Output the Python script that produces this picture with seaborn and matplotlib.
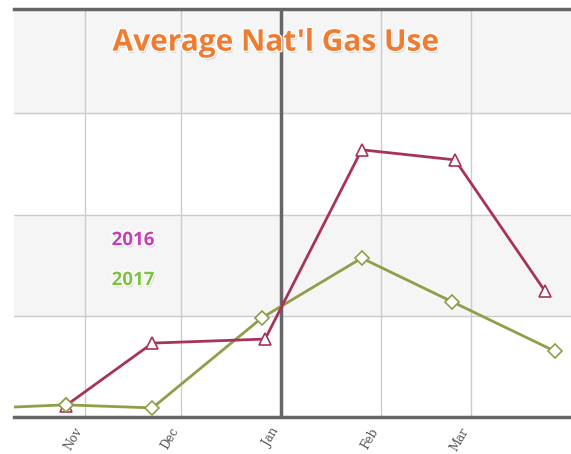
import matplotlib
matplotlib.use("Agg")
import matplotlib.pyplot as plt
import matplotlib.patheffects as pe
import pandas as pd
import seaborn as sns

# readings, plotted on a shared Oct-Mar season axis
dates_2016 = ["2016-10-26", "2016-11-22", "2016-12-27", "2017-01-26", "2017-02-24", "2017-03-24"]
use_2016 = [11, 73, 77, 264, 254, 124]
dates_2017 = ["2016-09-26", "2016-10-26", "2016-11-22", "2016-12-26", "2017-01-26", "2017-02-23", "2017-03-27"]
use_2017 = [8, 12, 9, 98, 157, 114, 65]
month_labels = ["Nov", "Dec", "Jan", "Feb", "Mar"]

df16 = pd.DataFrame({"date": pd.to_datetime(dates_2016), "use": use_2016})
df17 = pd.DataFrame({"date": pd.to_datetime(dates_2017), "use": use_2017})

sns.set_theme(style="white")
red = "#a8325e"
green = "#8e9e49"

fig = plt.figure(figsize=(5.71, 4.54), dpi=100)
ax = fig.add_axes([0.0245, 0.0815, 0.9755, 0.8985])
ax.set_facecolor("white")

for lo, hi in [(100, 200), (300, 420)]:
    ax.axhspan(lo, hi, color="#f5f5f5", zorder=0)
for yv in [100, 200, 300]:
    ax.axhline(yv, color="#cccccc", lw=1, zorder=1)

month_starts = pd.to_datetime(["2016-11-01", "2016-12-01", "2017-01-01", "2017-02-01", "2017-03-01"])
for d in month_starts:
    if d.month == 1:
        ax.axvline(d, color="#666666", lw=2.5, zorder=1)
    else:
        ax.axvline(d, color="#cccccc", lw=1, zorder=1)

sns.lineplot(data=df17, x="date", y="use", color=green, lw=2, marker="D",
             markersize=7, markerfacecolor="white", markeredgecolor=green,
             markeredgewidth=1.2, ax=ax, zorder=3)
sns.lineplot(data=df16, x="date", y="use", color=red, lw=2, marker="^",
             markersize=8, markerfacecolor="white", markeredgecolor=red,
             markeredgewidth=1.2, ax=ax, zorder=4)
# redraw green markers on top of red start point
ax.plot(df17["date"].iloc[1:2], df17["use"].iloc[1:2], ls="none", marker="D",
        ms=7, mfc="white", mec=green, mew=1.2, zorder=5)

ax.set_xlim(pd.Timestamp("2016-10-10"), pd.Timestamp("2017-04-01"))
ax.set_ylim(0, 403)
ax.set_xticks(month_starts)
ax.set_xticklabels(month_labels, rotation=60, ha="right", va="top",
                   family="DejaVu Serif", fontsize=8.5, color="#555555")
ax.tick_params(axis="x", length=0, pad=6)
ax.set_yticks([])
ax.set_xlabel("")
ax.set_ylabel("")

for side in ["left", "right"]:
    ax.spines[side].set_visible(False)
for side in ["top", "bottom"]:
    ax.spines[side].set_color("#666666")
    ax.spines[side].set_linewidth(2.5)

glow = [pe.withSimplePatchShadow(offset=(1, -1.5), shadow_rgbFace="#bbbbbb", alpha=0.6),
        pe.withStroke(linewidth=2, foreground="white")]
fig.text(0.483, 0.906, "Average Nat'l Gas Use", ha="center", va="center",
         fontsize=21.5, fontweight="bold", family="Open Sans", color="#ee7d33",
         path_effects=glow)
fig.text(0.233, 0.471, "2016", ha="center", va="center", fontsize=13.5,
         fontweight="bold", family="Open Sans", color="#c53fb5", path_effects=glow)
fig.text(0.233, 0.383, "2017", ha="center", va="center", fontsize=13.5,
         fontweight="bold", family="Open Sans", color="#7fc242", path_effects=glow)

fig.savefig("out.png", dpi=100)
